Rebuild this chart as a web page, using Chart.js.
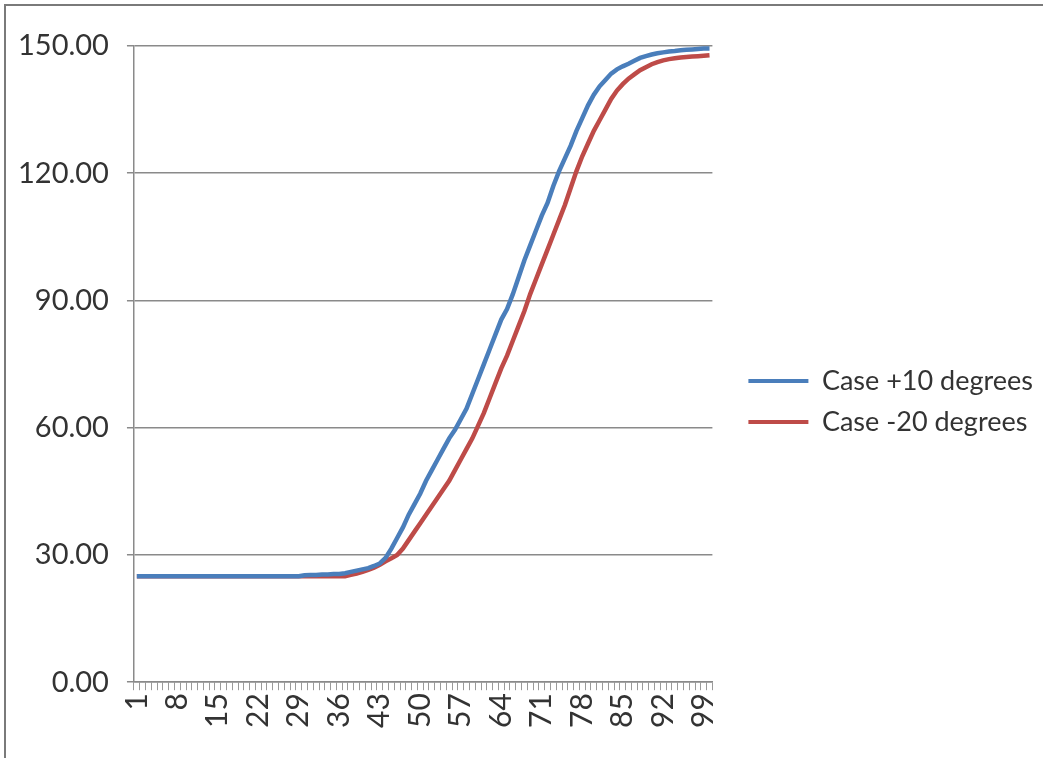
<!DOCTYPE html>
<html>
<head>
<meta charset="utf-8">
<script src="https://cdn.jsdelivr.net/npm/chart.js@4"></script>
<style>
  html, body { margin: 0; padding: 0; background: #fff; overflow: hidden; }
  #marco { position: absolute; left: 4px; top: 4px; width: 1100px; height: 800px; border: 2px solid #7a7a7a; }
  #contenedor { position: absolute; left: 0; top: 0; width: 1043px; height: 758px; }
</style>
</head>
<body>
<div id="marco"></div>
<div id="contenedor"><canvas id="grafico"></canvas></div>
<script>
// categorias del eje x: 1..100
const categorias = [
  1, 2, 3, 4, 5, 6, 7, 8, 9, 10,
  11, 12, 13, 14, 15, 16, 17, 18, 19, 20,
  21, 22, 23, 24, 25, 26, 27, 28, 29, 30,
  31, 32, 33, 34, 35, 36, 37, 38, 39, 40,
  41, 42, 43, 44, 45, 46, 47, 48, 49, 50,
  51, 52, 53, 54, 55, 56, 57, 58, 59, 60,
  61, 62, 63, 64, 65, 66, 67, 68, 69, 70,
  71, 72, 73, 74, 75, 76, 77, 78, 79, 80,
  81, 82, 83, 84, 85, 86, 87, 88, 89, 90,
  91, 92, 93, 94, 95, 96, 97, 98, 99, 100
];

const casoMas10 = [
  25, 25, 25, 25, 25, 25, 25, 25, 25, 25,
  25, 25, 25, 25, 25, 25, 25, 25, 25, 25,
  25, 25, 25, 25, 25, 25, 25, 25, 25, 25.2,
  25.3, 25.3, 25.4, 25.4, 25.5, 25.5, 25.7, 26, 26.3, 26.6,
  26.9, 27.4, 28.0, 29.3, 31.5, 34, 36.5, 39.5, 42, 44.5,
  47.5, 50, 52.5, 55, 57.5, 59.5, 62, 64.5, 68, 71.5,
  75, 78.5, 82, 85.5, 88, 91.5, 95.5, 99.5, 103, 106.5,
  110, 113, 117, 120.5, 123.5, 126.5, 130, 133, 136, 138.5,
  140.5, 142, 143.5, 144.5, 145.2, 145.8, 146.5, 147.2, 147.6, 148,
  148.3, 148.5, 148.7, 148.8, 149, 149.1, 149.2, 149.3, 149.4, 149.4
];

const casoMenos20 = [
  25, 25, 25, 25, 25, 25, 25, 25, 25, 25,
  25, 25, 25, 25, 25, 25, 25, 25, 25, 25,
  25, 25, 25, 25, 25, 25, 25, 25, 25, 25,
  25, 25, 25, 25, 25, 25, 25, 25.3, 25.6, 26,
  26.5, 27, 27.7, 28.5, 29.2, 30, 31.5, 33.5, 35.5, 37.5,
  39.5, 41.5, 43.5, 45.5, 47.5, 50, 52.5, 55, 57.5, 60.5,
  63.5, 67, 70.5, 74, 77, 80.5, 84, 87.5, 91.5, 95,
  98.5, 102, 105.5, 109, 112.5, 116.5, 120.5, 124, 127, 130,
  132.5, 135, 137.5, 139.5, 141, 142.3, 143.3, 144.3, 145, 145.7,
  146.2, 146.6, 146.9, 147.1, 147.3, 147.4, 147.5, 147.6, 147.7, 147.8
];

const series = ["Case +10 degrees", "Case -20 degrees"];
const colores = ["#4a7ebb", "#be4b48"];
const ticksY = [0, 30, 60, 90, 120, 150];

const fuente = "Lato, 'Open Sans', sans-serif";

const ctx = document.getElementById("grafico").getContext("2d");
new Chart(ctx, {
  type: "line",
  data: {
    labels: categorias,
    datasets: [
      { label: series[0], data: casoMas10, borderColor: colores[0], backgroundColor: colores[0] },
      { label: series[1], data: casoMenos20, borderColor: colores[1], backgroundColor: colores[1] }
    ]
  },
  options: {
    responsive: true,
    maintainAspectRatio: false,
    animation: false,
    elements: {
      line: { borderWidth: 4.5, tension: 0 },
      point: { radius: 0 }
    },
    layout: { padding: { left: 0, top: 46, right: 0, bottom: 27 } },
    plugins: {
      legend: {
        position: "right",
        maxWidth: 400,
        title: { display: true, text: "", font: { size: 10 }, padding: 7 },
        labels: {
          boxWidth: 60,
          boxHeight: 4,
          color: "#333",
          padding: 14,
          font: { family: fuente, size: 27 },
          generateLabels: (chart) => chart.data.datasets.map((d, i) => ({
            text: d.label,
            fillStyle: d.borderColor,
            strokeStyle: d.borderColor,
            lineWidth: 0,
            fontColor: "#333",
            hidden: false,
            datasetIndex: i
          }))
        }
      },
      tooltip: { enabled: false }
    },
    scales: {
      x: {
        offset: true,
        grid: { offset: true, drawOnChartArea: false, drawTicks: true, tickLength: 8, color: "#9a9a9a" },
        border: { color: "#8a8a8a", width: 1.5 },
        ticks: {
          autoSkip: false,
          maxRotation: 90,
          minRotation: 90,
          padding: 3,
          color: "#333",
          font: { family: fuente, size: 30 },
          callback: (v, i) => (i % 7 === 0 ? categorias[i] : "")
        }
      },
      y: {
        min: ticksY[0],
        max: ticksY[ticksY.length - 1],
        afterBuildTicks: (eje) => { eje.ticks = ticksY.map(v => ({ value: v })); },
        grid: { color: "#8a8a8a", lineWidth: 1.5, tickLength: 7 },
        border: { color: "#8a8a8a", width: 1.5 },
        ticks: {
          padding: 18,
          color: "#333",
          font: { family: fuente, size: 29 },
          callback: (v) => Number(v).toFixed(2)
        }
      },
      // espacio vacio entre el area del grafico y la leyenda
      hueco: {
        type: "linear",
        position: "right",
        display: true,
        grid: { display: false },
        border: { display: false },
        ticks: { display: false },
        afterFit: (eje) => { eje.width = 22; }
      }
    }
  }
});
</script>
</body>
</html>
